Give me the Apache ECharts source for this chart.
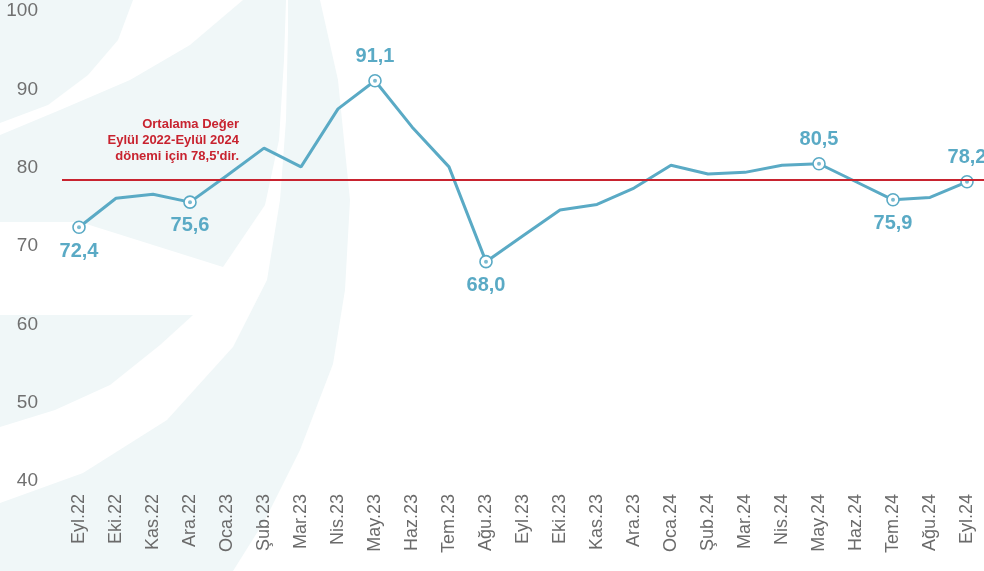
<!DOCTYPE html>
<html lang="tr">
<head>
<meta charset="utf-8">
<title>Ortalama Değer</title>
<script src="https://cdn.jsdelivr.net/npm/echarts@6/dist/echarts.min.js"></script>
<style>
  html, body { margin: 0; padding: 0; background: #fff; }
  #lineEcharts { width: 984px; height: 571px; }
</style>
</head>
<body>
<div id="lineEcharts"></div>
<script>
  // aylar
  let months = ['Eyl.22', 'Eki.22', 'Kas.22', 'Ara.22', 'Oca.23', 'Şub.23', 'Mar.23', 'Nis.23', 'May.23',
    'Haz.23', 'Tem.23', 'Ağu.23', 'Eyl.23', 'Eki.23', 'Kas.23', 'Ara.23', 'Oca.24', 'Şub.24', 'Mar.24',
    'Nis.24', 'May.24', 'Haz.24', 'Tem.24', 'Ağu.24', 'Eyl.24']
  let values = [72.4, 76.1, 76.6, 75.6, 79.0, 82.5, 80.1, 87.5, 91.1, 85.2, 80.1, 68.0, 71.3, 74.6, 75.3,
    77.4, 80.3, 79.2, 79.4, 80.3, 80.5, 78.2, 75.9, 76.2, 78.2]
  // etiketli noktalar ve etiket yeri
  let markedIdx = [0, 3, 8, 11, 20, 22, 24]
  let markedPos = ['bottom', 'bottom', 'top', 'bottom', 'top', 'bottom', 'top']
  let average = 78.5
  let yTicks = [40, 50, 60, 70, 80, 90, 100]

  let blue = '#5aaac5'
  let red = '#c8232f'
  let pale = '#f0f7f8'

  function fmt(v) {
    return v.toFixed(1).replace('.', ',')
  }

  // arka plandaki soluk logo parcasi
  function bgShape(points) {
    return { type: 'polygon', silent: true, z: -10, shape: { points: points }, style: { fill: pale } }
  }

  let myChart = echarts.init(document.getElementById('lineEcharts'))

  let lineData = values.map(function (v, i) {
    let k = markedIdx.indexOf(i)
    if (k < 0) return v
    return {
      value: v,
      symbol: 'circle',
      symbolSize: 12,
      itemStyle: { color: '#fff', borderColor: blue, borderWidth: 1.6 },
      label: { show: true, position: markedPos[k] }
    }
  })
  let dotData = markedIdx.map(function (i) {
    return [i, values[i]]
  })

  const option = {
    animation: false,
    backgroundColor: '#fff',
    graphic: [
      bgShape([[0, 0], [133, 0], [118, 40], [88, 75], [48, 105], [0, 123]]),
      bgShape([[243, 0], [286, 0], [284, 60], [279, 140], [265, 205], [223, 267], [80, 222], [0, 222],
        [0, 135], [60, 110], [130, 80], [190, 45]]),
      bgShape([[0, 315], [193, 315], [160, 345], [110, 385], [55, 410], [0, 427]]),
      bgShape([[320, 0], [338, 80], [350, 200], [345, 290], [333, 364], [300, 450], [265, 520], [233, 571],
        [0, 571], [0, 503], [83, 473], [167, 420], [233, 347], [267, 280], [280, 200], [286, 120],
        [288, 30], [288, 0]]),
      {
        type: 'text',
        silent: true,
        z: 5,
        x: 239,
        y: 116,
        style: {
          text: 'Ortalama Değer\nEylül 2022-Eylül 2024\ndönemi için ' + fmt(average) + '\'dir.',
          fill: red,
          font: 'bold 13px "Liberation Sans", Arial, sans-serif',
          textAlign: 'right',
          textVerticalAlign: 'top',
          lineHeight: 16
        }
      }
    ],
    grid: {
      left: 79,
      right: 17,
      top: 11,
      bottom: 90
    },
    xAxis: {
      type: 'category',
      data: months,
      boundaryGap: false,
      axisLine: { show: false },
      axisTick: { show: false },
      axisLabel: {
        interval: 0,
        rotate: 90,
        margin: 13,
        color: '#6b6b6b',
        fontSize: 18,
        fontFamily: 'Liberation Sans'
      }
    },
    yAxis: {
      type: 'value',
      min: yTicks[0],
      max: yTicks[yTicks.length - 1],
      interval: 10,
      splitLine: { show: false },
      axisLine: { show: false },
      axisTick: { show: false },
      axisLabel: {
        margin: 41,
        color: '#707070',
        fontSize: 19,
        fontFamily: 'Liberation Sans'
      }
    },
    series: [
      {
        name: 'Endeks',
        type: 'line',
        data: lineData,
        symbol: 'none',
        showSymbol: true,
        clip: false,
        z: 3,
        lineStyle: { color: blue, width: 3 },
        itemStyle: { color: blue },
        label: {
          show: false,
          distance: 7,
          color: blue,
          fontSize: 20,
          fontWeight: 'bold',
          fontFamily: 'Liberation Sans',
          formatter: function (p) {
            return fmt(p.value)
          }
        },
        markLine: {
          silent: true,
          symbol: 'none',
          label: { show: false },
          lineStyle: { color: red, width: 2, type: 'solid' },
          data: [
            [{ coord: [0, average], x: 62 }, { coord: [months.length - 1, average], x: 990 }]
          ]
        }
      },
      {
        name: 'nokta',
        type: 'scatter',
        data: dotData,
        symbolSize: 4,
        z: 4,
        silent: true,
        itemStyle: { color: blue }
      }
    ]
  }
  myChart.setOption(option)
  window.addEventListener('resize', function () {
    myChart.resize()
  })
</script>
</body>
</html>
